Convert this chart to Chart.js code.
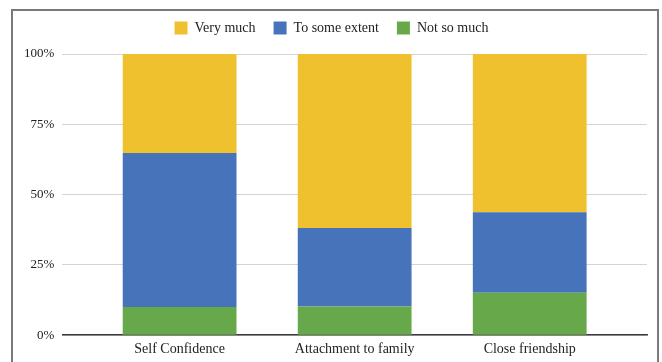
<!DOCTYPE html>
<html>
<head>
<meta charset="utf-8">
<script src="https://cdn.jsdelivr.net/npm/chart.js@4.4.1/dist/chart.umd.min.js"></script>
<style>
  html, body { margin: 0; padding: 0; background: #fff; }
  #frame { position: absolute; left: 11px; top: 9px; width: 644px; height: 400px; border: 2px solid #7a7a7a; }
  #wrap { position: absolute; left: 0; top: 0; width: 662px; height: 362px; }
</style>
</head>
<body>
<div id="frame"></div>
<div id="wrap"><canvas id="chartCanvas" width="662" height="362"></canvas></div>
<script>
// categories and series (percent of respondents)
var categories = ["Self Confidence", "Attachment to family", "Close friendship"];
var notSoMuch = [10.0, 10.2, 15.1];
var toSomeExtent = [54.8, 27.9, 28.6];
var veryMuch = [35.2, 61.9, 56.3];
var yTicks = [0, 25, 50, 75, 100];

function toPoints(values) {
	return values.map(function(v, i) {
		return { x: i, y: v };
	});
}

var fontFamily = "'Liberation Serif', 'Times New Roman', serif";

// extra room under the legend
var legendMargin = {
	id: 'legendMargin',
	beforeInit: function(chart) {
		var fit = chart.legend.fit;
		chart.legend.fit = function() {
			fit.bind(chart.legend)();
			this.height += 9;
		};
	}
};

var ctx = document.getElementById("chartCanvas");

var myBarChart = new Chart(ctx, {
	type: 'bar',
	data: {
		datasets: [{
			label: 'Not so much',
			data: toPoints(notSoMuch),
			backgroundColor: '#67a84b'
		}, {
			label: 'To some extent',
			data: toPoints(toSomeExtent),
			backgroundColor: '#4673ba'
		}, {
			label: 'Very much',
			data: toPoints(veryMuch),
			backgroundColor: '#efc12e'
		}]
	},
	plugins: [legendMargin],
	options: {
		responsive: false,
		animation: false,
		datasets: {
			bar: { categoryPercentage: 1, barPercentage: 0.65 }
		},
		layout: { padding: { left: 16, right: 15, top: 3, bottom: -2 } },
		plugins: {
			legend: {
				reverse: true,
				labels: {
					boxWidth: 13,
					boxHeight: 13,
					padding: 18,
					color: '#222',
					font: { family: fontFamily, size: 14 }
				}
			},
			tooltip: { enabled: false }
		},
		scales: {
			x: {
				type: 'linear',
				stacked: true,
				offset: false,
				min: -0.67,
				max: 2.67,
				afterBuildTicks: function(scale) {
					scale.ticks = categories.map(function(c, i) { return { value: i }; });
				},
				grid: { display: false, drawTicks: false },
				border: { display: true, color: '#3a3a3a', width: 1.5 },
				ticks: {
					padding: 6,
					color: '#222',
					font: { family: fontFamily, size: 14 },
					callback: function(value) { return categories[value]; }
				}
			},
			y: {
				stacked: true,
				min: 0,
				max: 100,
				afterBuildTicks: function(scale) {
					scale.ticks = yTicks.map(function(v) { return { value: v }; });
				},
				grid: { color: '#d4d4d4', lineWidth: 1, drawTicks: false },
				border: { display: false },
				ticks: {
					padding: 8,
					color: '#222',
					font: { family: fontFamily, size: 13 },
					callback: function(value) { return value + '%'; }
				}
			}
		}
	}
});
</script>
</body>
</html>
